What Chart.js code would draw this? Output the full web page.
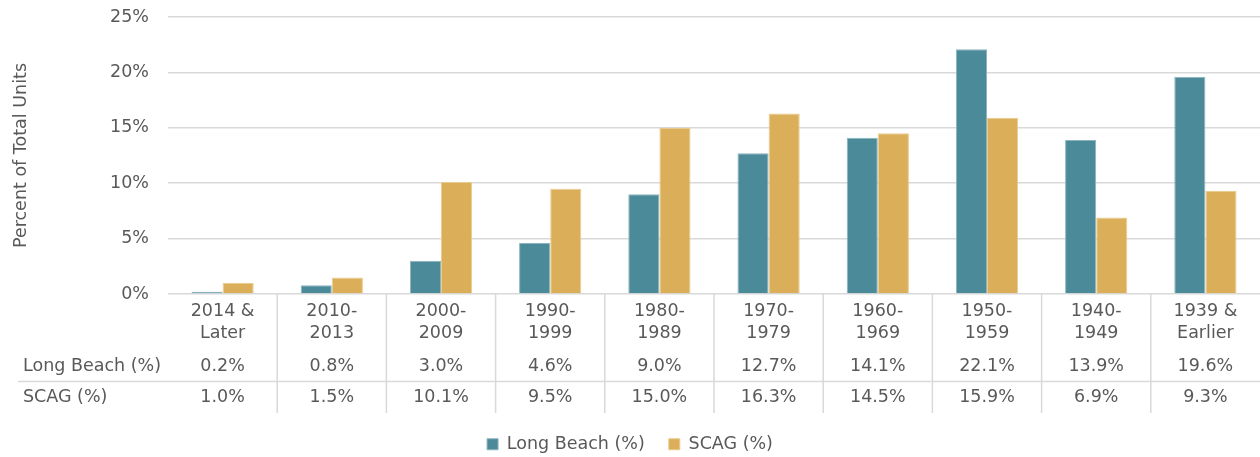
<!DOCTYPE html>
<html>
<head>
<meta charset="utf-8">
<script src="https://cdn.jsdelivr.net/npm/chart.js@4/dist/chart.umd.min.js"></script>
<style>
html,body{margin:0;padding:0;background:#fff;}
#wrap{width:1260px;height:457px;position:relative;}
</style>
</head>
<body>
<div id="wrap"><canvas id="c" width="1260" height="457"></canvas></div>
<script>
const categories = [["2014 &","Later"],["2010-","2013"],["2000-","2009"],["1990-","1999"],["1980-","1989"],["1970-","1979"],["1960-","1969"],["1950-","1959"],["1940-","1949"],["1939 &","Earlier"]];
const longBeach = [0.2, 0.8, 3.0, 4.6, 9.0, 12.7, 14.1, 22.1, 13.9, 19.6];
const scag = [1.0, 1.5, 10.1, 9.5, 15.0, 16.3, 14.5, 15.9, 6.9, 9.3];
const seriesNames = ["Long Beach (%)", "SCAG (%)"];
const yTicks = [0, 5, 10, 15, 20, 25];

const FONT = "'DejaVu Sans', sans-serif";
const FS = 17.5;
const TXT = '#595959';
const GRID = '#D9D9D9';

const tablePlugin = {
  id: 'dataTable',
  afterDraw(chart) {
    const ctx = chart.ctx;
    const xs = chart.scales.x;
    const area = chart.chartArea;
    const rowY = [366, 397];
    const rows = [longBeach, scag];
    ctx.save();
    ctx.strokeStyle = GRID;
    ctx.lineWidth = 1.5;
    ctx.beginPath();
    ctx.moveTo(18, 381.5);
    ctx.lineTo(area.right, 381.5);
    ctx.stroke();
    for (let i = 0; i < categories.length - 1; i++) {
      const xb = (xs.getPixelForValue(i) + xs.getPixelForValue(i + 1)) / 2;
      ctx.beginPath();
      ctx.moveTo(xb, area.bottom);
      ctx.lineTo(xb, 413);
      ctx.stroke();
    }
    ctx.fillStyle = TXT;
    ctx.font = FS + 'px ' + FONT;
    ctx.textBaseline = 'middle';
    rows.forEach((vals, r) => {
      ctx.textAlign = 'left';
      ctx.fillText(seriesNames[r], 23, rowY[r]);
      ctx.textAlign = 'center';
      vals.forEach((v, i) => {
        ctx.fillText(v.toFixed(1) + '%', xs.getPixelForValue(i), rowY[r]);
      });
    });
    ctx.restore();
  }
};

new Chart(document.getElementById('c'), {
  type: 'bar',
  data: {
    labels: categories,
    datasets: [
      { label: seriesNames[0], data: longBeach, backgroundColor: '#4A8A99', borderColor: '#8DB4BE', borderWidth: 1, categoryPercentage: 0.57, barPercentage: 1.0 },
      { label: seriesNames[1], data: scag, backgroundColor: '#DBAF5A', borderColor: '#EACB8E', borderWidth: 1, categoryPercentage: 0.57, barPercentage: 1.0 }
    ]
  },
  options: {
    responsive: false,
    animation: false,
    devicePixelRatio: 1,
    layout: { padding: { top: 17, left: 0, right: 0, bottom: -6 } },
    plugins: {
      legend: {
        position: 'bottom',
        labels: { boxWidth: 11, boxHeight: 11, padding: 24, color: TXT, font: { family: FONT, size: FS } }
      },
      tooltip: { enabled: false }
    },
    scales: {
      x: {
        grid: { display: false, drawTicks: false },
        border: { display: false },
        ticks: { color: TXT, font: { family: FONT, size: FS, lineHeight: 1.257 }, padding: 6, maxRotation: 0, autoSkip: false },
        afterFit(s) { s.height = 117.5; }
      },
      y: {
        min: 0, max: 25,
        afterBuildTicks(s) { s.ticks = yTicks.map(v => ({ value: v })); },
        grid: { color: GRID, lineWidth: 1.5, drawTicks: false },
        border: { display: false },
        ticks: { color: TXT, font: { family: FONT, size: FS }, padding: 19, callback: v => v + '%' },
        title: { display: true, text: 'Percent of Total Units', color: TXT, font: { family: FONT, size: FS }, padding: { top: 11, bottom: 0 } },
        afterFit(s) { s.width = 168; s.paddingTop = 0; s.paddingBottom = 0; }
      }
    }
  },
  plugins: [tablePlugin]
});
</script>
</body>
</html>
